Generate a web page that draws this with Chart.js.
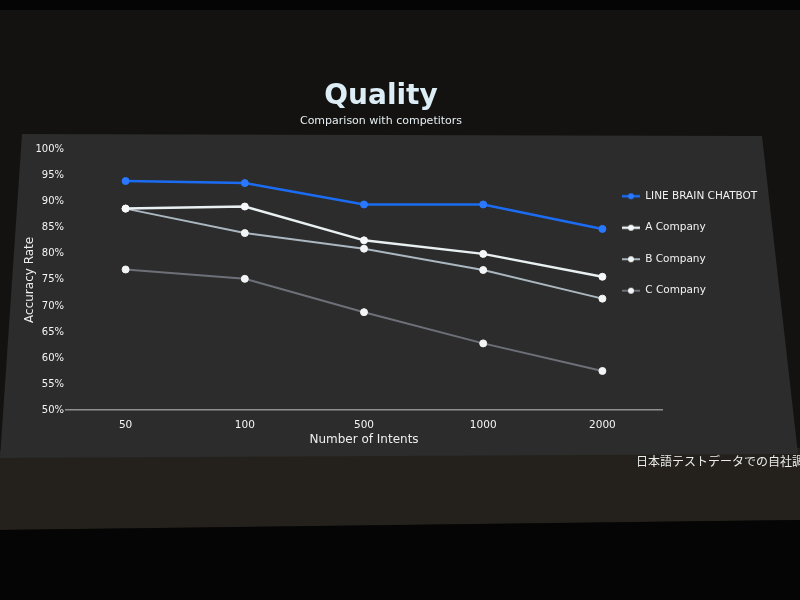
<!DOCTYPE html>
<html>
<head>
<meta charset="utf-8">
<script src="https://cdn.jsdelivr.net/npm/chart.js@4.4.1/dist/chart.umd.min.js"></script>
<style>
    html, body { margin: 0; padding: 0; background: #050505; }
    #wrap { width: 800px; height: 600px; position: relative; }
</style>
</head>
<body>
<div id="wrap"><canvas id="qualityChart"></canvas></div>
<script>
// 横軸（インテント数）
const intents = ['50', '100', '500', '1000', '2000'];
// 各社の正解率（%）
const lineBrainChatbot = [94.0, 93.6, 89.5, 89.5, 84.8];
const companyA = [88.7, 89.1, 82.6, 80.0, 75.6];
const companyB = [88.7, 84.0, 81.0, 76.9, 71.4];
const companyC = [77.0, 75.2, 68.8, 62.8, 57.5];
const seriesNames = ['LINE BRAIN CHATBOT', 'A Company', 'B Company', 'C Company'];
// 縦軸の目盛り（%）
const yMin = 50;
const yMax = 100;
const yStep = 5;

const FONT = "'DejaVu Sans', sans-serif";
const lineColors = ['#1b6cf2', '#e9f0f2', '#aab7c0', '#6d7078'];
const dotColors = ['#2a78ff', '#f6f8f9', '#f2f4f5', '#f2f4f5'];
const lineWidths = [2.5, 2.5, 2, 2];

// 凡例用マーカー（線＋点）
const makeMarker = (lineColor, dotColor, width) => {
    const c = document.createElement('canvas');
    c.width = 18;
    c.height = 8;
    const g = c.getContext('2d');
    g.strokeStyle = lineColor;
    g.lineWidth = width;
    g.beginPath();
    g.moveTo(0, 4);
    g.lineTo(18, 4);
    g.stroke();
    g.fillStyle = dotColor;
    g.beginPath();
    g.arc(9, 4, 3, 0, Math.PI * 2);
    g.fill();
    return c;
};
const markers = lineColors.map((c, i) => makeMarker(c, dotColors[i], lineWidths[i]));

// 写真の背景（暗い会場＋スクリーン）
const slideBackground = {
    id: 'slideBackground',
    beforeDraw(chart) {
        const ctx = chart.ctx;
        const poly = (pts, color) => {
            ctx.fillStyle = color;
            ctx.beginPath();
            pts.forEach(([x, y], i) => (i ? ctx.lineTo(x, y) : ctx.moveTo(x, y)));
            ctx.closePath();
            ctx.fill();
        };
        ctx.save();
        ctx.fillStyle = '#131210';
        ctx.fillRect(0, 0, 800, 600);
        ctx.fillStyle = '#050505';
        ctx.fillRect(0, 0, 800, 10);
        poly([[0, 450], [800, 448], [800, 520], [0, 530]], '#24211c');
        poly([[0, 530], [800, 520], [800, 600], [0, 600]], '#050505');
        poly([[22, 134], [762, 136], [798, 454], [0, 458]], '#2b2c2b');
        ctx.restore();
    },
};

// 右下の注記
const footnote = {
    id: 'footnote',
    afterDraw(chart) {
        const ctx = chart.ctx;
        ctx.save();
        ctx.font = "12px 'Noto Sans CJK JP'";
        ctx.fillStyle = '#ececec';
        ctx.textBaseline = 'middle';
        ctx.fillText('日本語テストデータでの自社調査', 636, 461);
        ctx.restore();
    },
};

// 凡例をグラフ領域の右側に重ねて配置
const legendPlacement = {
    id: 'legendPlacement',
    afterLayout(chart) {
        const lg = chart.legend;
        if (!lg) return;
        lg.left = 601;
        lg.right = 800;
        lg.top = 170;
        lg.bottom = 450;
    },
};

const datasets = [lineBrainChatbot, companyA, companyB, companyC].map((values, i) => ({
    label: seriesNames[i],
    data: values,
    borderColor: lineColors[i],
    backgroundColor: dotColors[i],
    borderWidth: lineWidths[i],
    pointRadius: 3.5,
    pointBackgroundColor: dotColors[i],
    pointBorderColor: dotColors[i],
    pointBorderWidth: 1,
    tension: 0,
}));

new Chart(document.getElementById('qualityChart'), {
    type: 'line',
    data: { labels: intents, datasets },
    options: {
        responsive: true,
        maintainAspectRatio: false,
        animation: false,
        layout: { padding: { top: 80, left: 0, right: 38, bottom: 140 } },
        plugins: {
            title: {
                display: true,
                text: 'Quality',
                color: '#dcedf5',
                font: { family: FONT, size: 28, weight: 'bold' },
                padding: { top: 0, bottom: 0 },
            },
            subtitle: {
                display: true,
                text: 'Comparison with competitors',
                color: '#e4eef2',
                font: { family: FONT, size: 11 },
                padding: { top: 1, bottom: 22 },
            },
            legend: {
                position: 'right',
                align: 'start',
                maxWidth: 100,
                labels: {
                    color: '#f2f2f2',
                    font: { family: FONT, size: 10.5 },
                    usePointStyle: true,
                    pointStyleWidth: 18,
                    padding: 21,
                    generateLabels: (chart) =>
                        Chart.defaults.plugins.legend.labels.generateLabels(chart).map((item, i) => ({
                            ...item,
                            pointStyle: markers[i],
                        })),
                },
            },
            tooltip: { enabled: false },
        },
        scales: {
            x: {
                offset: true,
                grid: { display: false, drawTicks: false },
                border: { display: true, color: '#8d8f92', width: 1.5 },
                ticks: { color: '#f4f4f4', font: { family: FONT, size: 10.5 }, padding: 9 },
                title: {
                    display: true,
                    text: 'Number of Intents',
                    color: '#eeeeee',
                    font: { family: FONT, size: 12 },
                    padding: { top: 0, bottom: 13 },
                },
                afterFit: (scale) => { scale.height = 50; },
            },
            y: {
                min: yMin,
                max: yMax,
                grid: { display: false, drawTicks: false },
                border: { display: false },
                ticks: {
                    stepSize: yStep,
                    color: '#f4f4f4',
                    font: { family: FONT, size: 10 },
                    padding: 2,
                    callback: (v) => `${v}%`,
                },
                title: {
                    display: true,
                    text: 'Accuracy Rate',
                    color: '#eeeeee',
                    font: { family: FONT, size: 12 },
                    padding: { top: 23, bottom: 0 },
                },
                afterFit: (scale) => { scale.width = 66; },
            },
        },
    },
    plugins: [slideBackground, legendPlacement, footnote],
});
</script>
</body>
</html>
